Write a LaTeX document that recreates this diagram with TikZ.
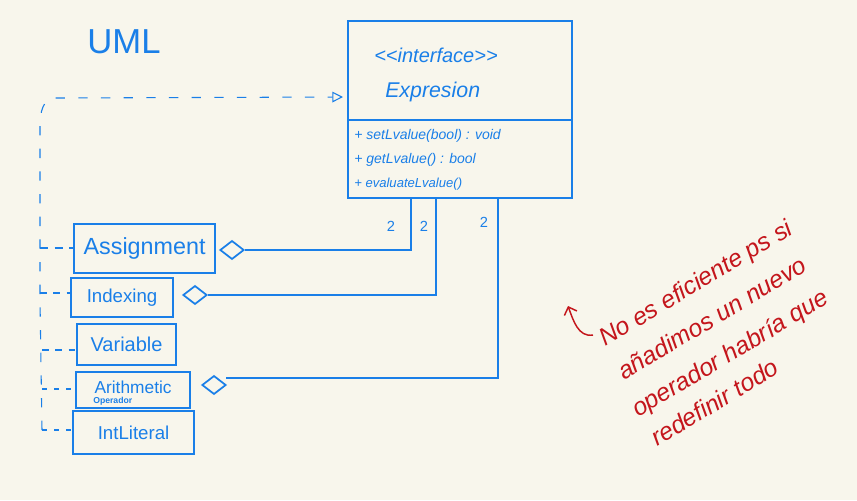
\documentclass[tikz,border=0pt]{standalone}
\usepackage{fontspec}
\setmainfont{Liberation Sans}
\usetikzlibrary{arrows.meta,shapes.geometric}
\definecolor{bg}{HTML}{F8F6EC}
\definecolor{ink}{HTML}{1A7FE8}
\definecolor{redink}{HTML}{C4161C}
\tikzset{
  box/.style={draw=ink,line width=1.6pt,inner sep=0pt},
  lbl/.style={text=ink,inner sep=0pt},
  link/.style={draw=ink,line width=1.3pt},
  dsh/.style={draw=ink,line width=0.8pt,dash pattern=on 7pt off 10pt},
  dia/.style={draw=ink,line width=1.3pt,diamond,minimum width=18pt,minimum height=14pt,inner sep=0pt,fill=bg},
  note/.style={text=redink,anchor=base west,rotate=31,inner sep=0pt,font=\fontsize{18.5}{19}\selectfont\itshape}
}
\begin{document}
\begin{tikzpicture}[x=0.75pt,y=-0.75pt]
\useasboundingbox[fill=bg] (0,0) rectangle (857,500);
% title
\node[lbl,font=\fontsize{26}{28}\selectfont] (uml) at (124,42) {UML};
% interface box
\node[box,minimum width=224*0.75pt,minimum height=177*0.75pt,anchor=north west] (expr) at (347,20) {};
\coordinate (divl) at (347,120);
\coordinate (divr) at (571,120);
\draw[link,line width=1.6pt] (divl) -- (divr);
\node[lbl,anchor=west,font=\fontsize{15}{16}\selectfont\itshape] (stereo) at (374,55) {<\kern0pt<interface>\kern0pt>};
\node[lbl,anchor=west,font=\fontsize{16}{17}\selectfont\itshape] (ename) at (385,92) {Expresion};
\node[lbl,anchor=west,font=\fontsize{10.5}{11}\selectfont\itshape] (m1) at (354,136) {+ setLvalue(bool) : void};
\node[lbl,anchor=west,font=\fontsize{10.5}{11}\selectfont\itshape] (m2) at (354,160) {+ getLvalue() : bool};
\node[lbl,anchor=west,font=\fontsize{9.8}{10}\selectfont\itshape] (m3) at (354,184) {+ evaluateLvalue()};
% classes
\node[box,minimum width=141*0.75pt,minimum height=49*0.75pt,anchor=north west] (asg) at (73,223) {};
\node[lbl,font=\fontsize{17.5}{18}\selectfont] at (asg.center) {Assignment};
\node[box,minimum width=102*0.75pt,minimum height=39*0.75pt,anchor=north west] (idx) at (70,277) {};
\node[lbl,font=\fontsize{14}{15}\selectfont] at (idx.center) {Indexing};
\node[box,minimum width=99*0.75pt,minimum height=41*0.75pt,anchor=north west] (var) at (76,323) {};
\node[lbl,font=\fontsize{15}{16}\selectfont] at (var.center) {Variable};
\node[box,minimum width=114*0.75pt,minimum height=36*0.75pt,anchor=north west] (ari) at (75,371) {};
\node[lbl,font=\fontsize{13}{14}\selectfont] at ([yshift=2pt]ari.center) {Arithmetic};
\node[lbl,font=\fontsize{6.5}{7}\selectfont\bfseries,anchor=west] (op) at (93,401) {Operador};
\node[box,minimum width=121*0.75pt,minimum height=43*0.75pt,anchor=north west] (lit) at (72,410) {};
\node[lbl,font=\fontsize{14}{15}\selectfont] at (lit.center) {IntLiteral};
% aggregation diamonds and links
\node[dia] (d1) at (232,250) {};
\node[dia] (d2) at (195,295) {};
\node[dia] (d3) at (214,385) {};
\coordinate (t1) at (411,198);
\coordinate (t2) at (436,198);
\coordinate (t3) at (498,198);
\coordinate (s3) at (226,378);
\draw[link] (d1.east) -- (t1 |- d1.east) -- (t1);
\draw[link] (d2.east) -- (t2 |- d2.east) -- (t2);
\draw[link] (s3) -- (t3 |- s3) -- (t3);
\node[lbl,font=\fontsize{11}{12}\selectfont] (n1) at (391,226) {2};
\node[lbl,font=\fontsize{11}{12}\selectfont] (n2) at (424,226) {2};
\node[lbl,font=\fontsize{11}{12}\selectfont] (n3) at (484,222) {2};
% realization (dashed)
\coordinate (bot) at (42,430);
\coordinate (tip) at (343,97);
\draw[dsh,-{Triangle[open,length=8pt,width=8pt]}] (bot) -- (40,300) -- (40,125) to[out=90,in=180] (55,98) -- (tip);
\draw[dsh,dash pattern=on 6pt off 5pt] (40,248) -- (asg.west |- 0,248);
\draw[dsh,dash pattern=on 5pt off 5pt] (40,293) -- (idx.west |- 0,293);
\draw[dsh,dash pattern=on 5pt off 5pt] (42,350) -- (var.west |- 0,350);
\draw[dsh,dash pattern=on 4pt off 5pt] (42,389) -- (ari.west |- 0,389);
\draw[dsh,dash pattern=on 4pt off 5pt] (42,430) -- (lit.west |- 0,430);
% note
\coordinate (ar0) at (593,335);
\coordinate (ar1) at (568,306);
\draw[redink,line width=1.1pt,-{Straight Barb[length=5pt]}] (ar0) to[out=190,in=-70] (ar1);
\node[note] (l1) at (605,347) {No es eficiente ps si};
\node[note] (l2) at (624,381) {añadimos un nuevo};
\node[note] (l3) at (638,418) {operador habría que};
\node[note] (l4) at (657,447) {redefinir todo};
\end{tikzpicture}
\end{document}
